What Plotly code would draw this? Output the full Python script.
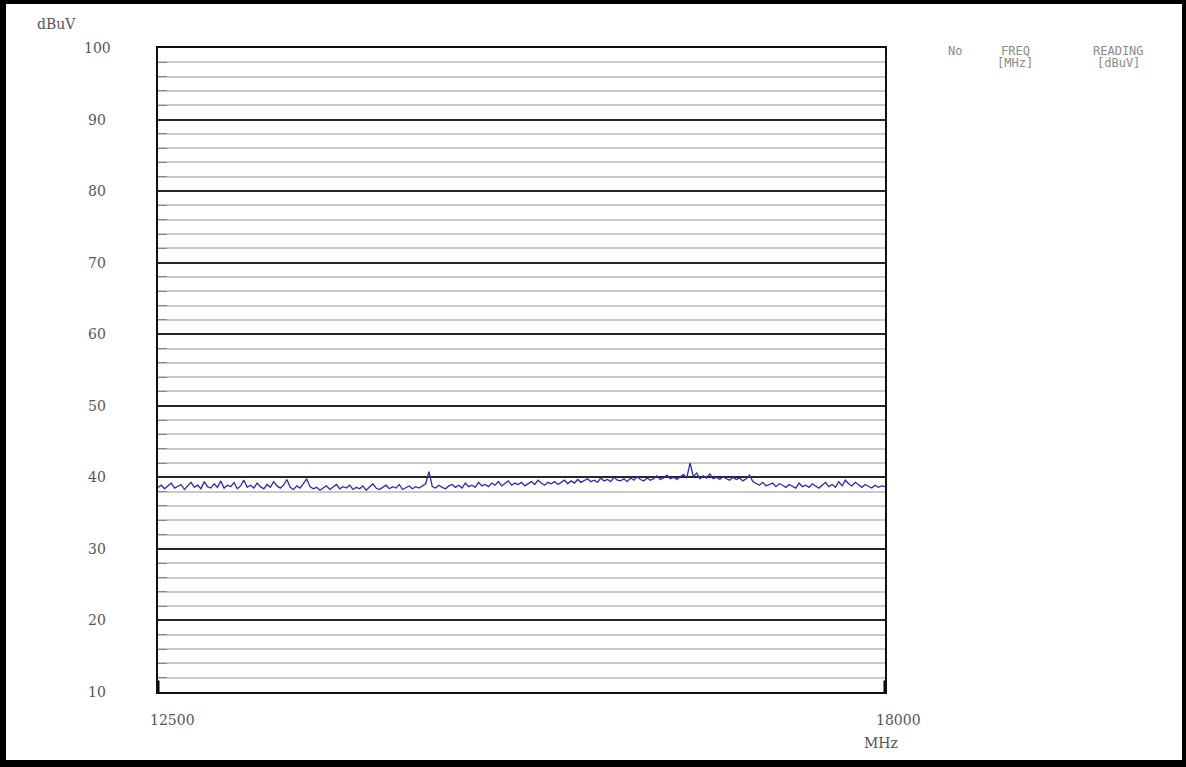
import plotly.graph_objects as go

# ---------------- data ----------------
FREQ_START = 12500
FREQ_STEP = 25
READING_DBUV = [
    38.6, 38.9, 38.4, 38.8, 39.2, 38.5, 38.7, 39.0, 38.3, 38.8,
    39.3, 38.6, 38.9, 38.4, 39.4, 38.7, 38.5, 39.1, 38.6, 39.5,
    38.5, 38.9, 38.7, 39.3, 38.4, 38.8, 39.6, 38.6, 38.9, 38.5,
    39.2, 38.7, 38.4, 39.0, 38.6, 39.4, 38.8, 38.5, 38.9, 39.7,
    38.6, 38.3, 38.8, 38.5, 39.1, 39.8, 38.7, 38.4, 38.6, 38.2,
    38.5, 38.8, 38.3, 38.6, 39.0, 38.4, 38.7, 38.5, 38.9, 38.3,
    38.6, 38.4, 38.8, 38.2, 38.7, 39.1, 38.5, 38.3, 38.6, 38.9,
    38.4, 38.7, 38.5, 39.0, 38.3, 38.6, 38.8, 38.4, 38.7, 38.5,
    38.8, 39.1, 40.8, 38.7, 38.5, 38.9, 38.6, 38.4, 38.8, 39.0,
    38.6, 38.9, 38.5, 39.2, 38.7, 38.9, 38.6, 39.3, 38.8, 39.0,
    38.7, 39.2, 38.9, 39.4, 38.8, 39.1, 39.5, 38.9, 39.2, 39.0,
    39.3, 38.8, 39.1, 39.4, 39.0, 39.6, 39.2, 38.9, 39.3, 39.1,
    39.4, 39.0, 39.3, 39.6, 39.1, 39.5, 39.2, 39.7, 39.3, 39.5,
    39.8, 39.4, 39.6, 39.3, 39.9, 39.5, 39.7, 39.4, 40.0, 39.6,
    39.5, 39.8, 39.4, 39.9, 39.6, 40.1, 39.7, 39.5, 39.9, 39.6,
    39.8, 40.2, 39.7, 39.9, 40.3, 39.8, 40.0, 39.7, 40.1, 40.4,
    39.9, 42.0, 40.1, 40.6, 39.8, 40.2, 39.9, 40.5, 39.8, 40.0,
    39.7, 40.1, 39.8, 39.6, 40.0, 39.7, 39.9, 39.5, 39.8, 40.3,
    39.4, 39.1, 38.9, 39.3, 38.8, 39.0, 39.2, 38.7, 39.1, 38.9,
    38.6, 39.0, 38.8, 38.5, 39.2, 38.7, 38.9, 38.6, 39.1, 38.8,
    38.5, 38.9, 39.3, 38.7, 39.0, 38.6, 39.4, 38.8, 39.6, 39.1,
    38.8, 39.3, 38.9, 38.6, 39.0, 38.7, 38.5, 38.9, 38.6, 38.8,
    38.7,
]
FREQ_MHZ = [FREQ_START + FREQ_STEP * i for i in range(len(READING_DBUV))]

X_RANGE = [12500, 18000]
Y_RANGE = [10, 100]
Y_TICKS = [100, 90, 80, 70, 60, 50, 40, 30, 20, 10]
X_TICKS = [12500, 18000]
X_UNIT = "MHz"
Y_UNIT = "dBuV"
TABLE_HEAD = [("No", ""), ("FREQ", "[MHz]"), ("READING", "[dBuV]")]

# ---------------- layout geometry ----------------
W, H = 1186, 767
L, R, T, B = 158, 885, 48, 692
PW, PH = R - L, B - T


def px(xp):
    return (xp - L) / PW


def py(yp):
    return (B - yp) / PH


fig = go.Figure()
fig.add_trace(go.Scatter(
    x=FREQ_MHZ, y=READING_DBUV, mode="lines",
    line=dict(color="#2b2bb8", width=1.3), showlegend=False,
))

tick_font = dict(family="DejaVu Serif", size=14, color="#555555")
annotations = []
for v in Y_TICKS:
    annotations.append(dict(
        x=px(97), xref="paper", y=v, yref="y", text=str(v),
        showarrow=False, xanchor="center", yanchor="middle", font=tick_font))
annotations.append(dict(x=X_TICKS[0], xref="x", y=py(720), yref="paper",
                        text=str(X_TICKS[0]), showarrow=False, xanchor="center",
                        yanchor="middle", xshift=14, font=tick_font))
annotations.append(dict(x=X_TICKS[1], xref="x", y=py(720), yref="paper",
                        text=str(X_TICKS[1]), showarrow=False, xanchor="center",
                        yanchor="middle", xshift=13, font=tick_font))
annotations.append(dict(x=X_TICKS[1], xref="x", y=py(743), yref="paper",
                        text=X_UNIT, showarrow=False, xanchor="center",
                        yanchor="middle", xshift=-4, font=tick_font))
annotations.append(dict(x=px(56), xref="paper", y=py(24), yref="paper",
                        text=Y_UNIT, showarrow=False, xanchor="center",
                        yanchor="middle", font=tick_font))

head_font = dict(family="DejaVu Sans Mono", size=12, color="#8a8a8a")
head_x = [955, 1015, 1118]
for (top, bot), cx in zip(TABLE_HEAD, head_x):
    annotations.append(dict(x=px(cx), xref="paper", y=py(51), yref="paper",
                            text=top, showarrow=False, xanchor="center",
                            yanchor="middle", font=head_font))
    if bot:
        annotations.append(dict(x=px(cx), xref="paper", y=py(63), yref="paper",
                                text=bot, showarrow=False, xanchor="center",
                                yanchor="middle", font=head_font))

# outer black border of the picture
shapes = []
for (x0, y0, x1, y1) in [(0, 0, 6, H), (0, 0, W, 4), (W - 4, 0, W, H), (0, H - 7, W, H)]:
    shapes.append(dict(type="rect", xref="paper", yref="paper",
                       x0=px(x0), x1=px(x1), y0=py(y1), y1=py(y0),
                       fillcolor="black", line=dict(width=0), layer="above"))
# thick end markers at the bottom corners
for xv in X_RANGE:
    shapes.append(dict(type="line", xref="x", yref="y", x0=xv, x1=xv,
                       y0=Y_RANGE[0], y1=Y_RANGE[0] + 1.6,
                       line=dict(color="black", width=3), layer="above"))

fig.update_layout(
    width=W, height=H,
    margin=dict(l=L, r=W - R, t=T, b=H - B),
    paper_bgcolor="white", plot_bgcolor="white",
    showlegend=False,
    annotations=annotations,
    shapes=shapes,
    xaxis=dict(range=X_RANGE, showgrid=False, zeroline=False,
               showticklabels=False, ticks="",
               showline=True, mirror=True, linecolor="#111", linewidth=2),
    yaxis=dict(range=Y_RANGE, dtick=10, tick0=10, showgrid=True,
               gridcolor="#262626", gridwidth=2, zeroline=False,
               showticklabels=False, ticks="",
               showline=True, mirror=True, linecolor="#111", linewidth=2,
               minor=dict(dtick=2, tick0=10, showgrid=True, gridcolor="#c9c9c9",
                          gridwidth=1.5, ticks="inside", ticklen=9,
                          tickcolor="#888", tickwidth=1)),
)

fig.write_html("out.html")
